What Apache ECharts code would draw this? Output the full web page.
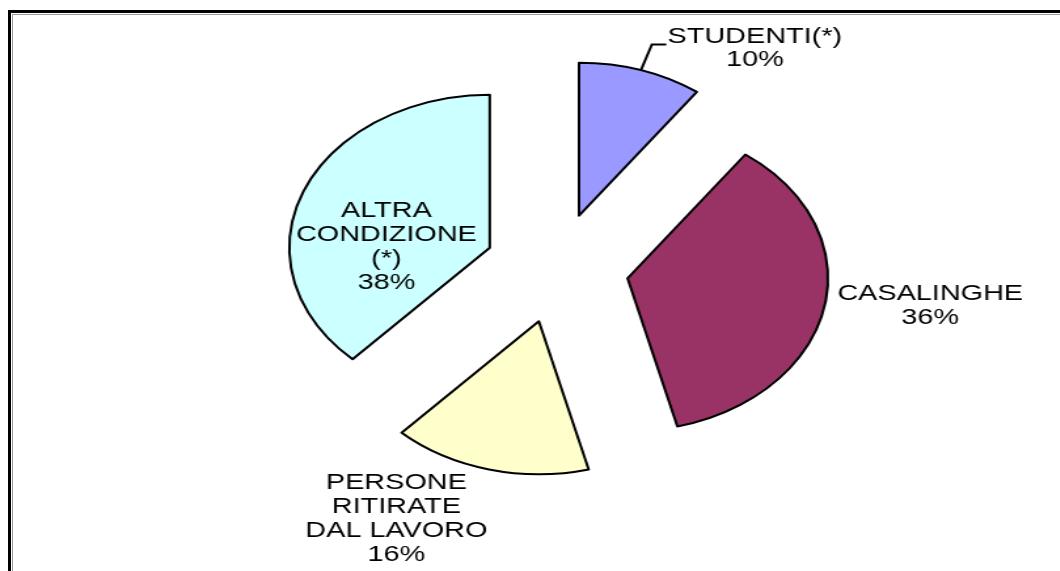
<!DOCTYPE html>
<html>
<head>
<meta charset="utf-8">
<script src="https://cdn.jsdelivr.net/npm/echarts@6/dist/echarts.min.js"></script>
<style>
  html, body { margin: 0; padding: 0; background: #fff; overflow: hidden; }
  .frame {
    position: absolute; left: 8px; top: 10px; width: 1100px; height: 600px;
    border-left: 3px solid #000; border-top: 3px solid #000;
  }
  .frame-inner {
    position: absolute; left: 1px; top: 1px; right: 0; bottom: 0;
    border-left: 1px solid #999; border-top: 1px solid #999;
  }
  /* the original pie is stretched horizontally, so the chart is drawn narrow and scaled */
  #chart {
    position: absolute; left: 0; top: 0; width: 809px; height: 571px;
    transform: scaleX(1.31); transform-origin: 0 0;
  }
</style>
</head>
<body>
<div class="frame"><div class="frame-inner"></div></div>
<div id="chart"></div>
<script>
const categories = ['STUDENTI(*)', 'CASALINGHE', 'PERSONE\nRITIRATE\nDAL LAVORO', 'ALTRA\nCONDIZIONE\n(*)']
const values = [10, 36, 16, 38]
const colors = ['#9999ff', '#993366', '#ffffcc', '#ccffff']

// label shift from the default 'inside' spot, per slice (unscaled px)
const labelShift = [null, [153, 13], [-89, 121], [-5, 28]]

const chart = echarts.init(document.getElementById('chart'))

const seriesData = categories.map((name, i) => {
  const item = {
    name: name,
    value: values[i],
    selected: true,
    itemStyle: { color: colors[i] }
  }
  if (i === 0) {
    item.label = {
      position: 'outside',
      padding: [8, 0, 0, 0],
      formatter: p => '{c|' + p.name + '}\n{c|' + p.value + '%}'
    }
    item.labelLine = { show: true, length: 27, length2: 11 }
  } else {
    item.label = {
      position: 'inside',
      formatter: p => p.name + '\n' + p.value + '%'
    }
    item.labelLine = { show: false }
  }
  return item
})

chart.setOption({
  animation: false,
  series: [
    {
      type: 'pie',
      center: [425, 268],
      radius: 153,
      startAngle: 90,
      clockwise: true,
      selectedMode: 'multiple',
      selectedOffset: 55,
      avoidLabelOverlap: false,
      emphasis: { disabled: true },
      itemStyle: { borderColor: '#000', borderWidth: 2 },
      label: {
        color: '#000',
        fontFamily: 'Liberation Sans, Arial, sans-serif',
        fontSize: 22,
        lineHeight: 24,
        align: 'center',
        distanceToLabelLine: 1,
        rich: {
          c: { align: 'center', fontSize: 22, lineHeight: 23, color: '#000', fontFamily: 'Liberation Sans, Arial, sans-serif' }
        }
      },
      labelLine: { lineStyle: { color: '#000', width: 2 } },
      labelLayout: params => {
        const s = labelShift[params.dataIndex]
        return s ? { dx: s[0], dy: s[1] } : {}
      },
      data: seriesData
    }
  ]
})
</script>
</body>
</html>
